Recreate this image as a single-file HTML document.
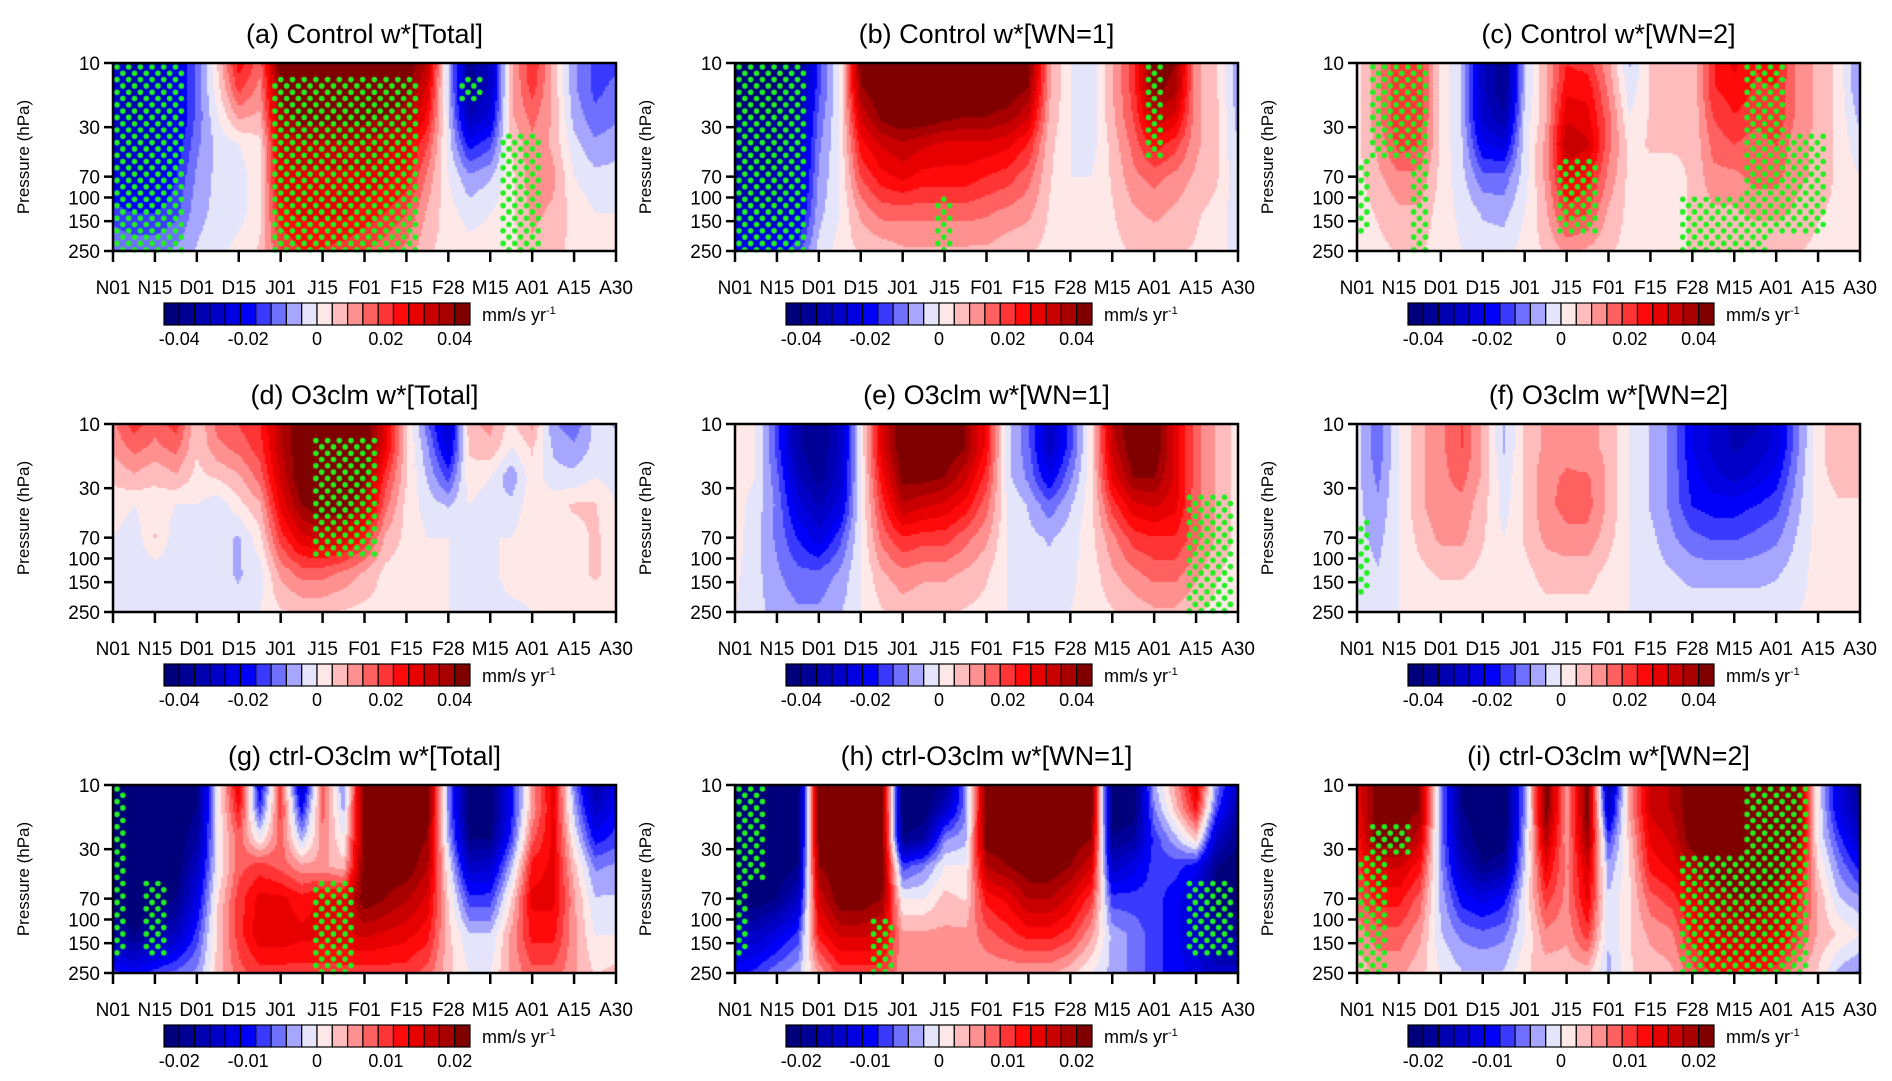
<!DOCTYPE html>
<html><head><meta charset="utf-8">
<style>
html,body{margin:0;padding:0;background:#fff;}
#wrap{position:relative;width:1892px;height:1081px;overflow:hidden;}
canvas,svg{position:absolute;left:0;top:0;}
text{font-family:"Liberation Sans",Arial,sans-serif;fill:#000;}
</style></head>
<body>
<div id="wrap">
<canvas id="cv" width="1892" height="1081"></canvas>
<svg id="sv" width="1892" height="1081"></svg>
</div>
<script>
// ---- data (values in 1e-3 mm/s yr^-1), rows = pressure levels, cols = half-tick time steps ----
const xTickLabels=["N01","N15","D01","D15","J01","J15","F01","F15","F28","M15","A01","A15","A30"];
const yTickValues=[10,30,70,100,150,250];
const levels=[10,15,25,40,70,130,250];
const cbLabelsTop=[-0.04,-0.02,0,0.02,0.04];
const cbLabelsBot=[-0.02,-0.01,0,0.01,0.02];
const titles=["(a) Control w*[Total]","(b) Control w*[WN=1]","(c) Control w*[WN=2]","(d) O3clm w*[Total]","(e) O3clm w*[WN=1]","(f) O3clm w*[WN=2]","(g) ctrl-O3clm w*[Total]","(h) ctrl-O3clm w*[WN=1]","(i) ctrl-O3clm w*[WN=2]"];
const scales=[40,40,40,40,40,40,20,20,20];

const aVals=[
[-30,-32,-30,-25,-12,5,25,15,45,45,45,45,45,45,45,35,-5,-38,-30,8,22,8,-8,-15,-15],
[-30,-32,-30,-25,-12,3,20,12,42,45,45,45,45,45,42,30,-5,-38,-30,8,20,8,-8,-15,-12],
[-30,-32,-30,-25,-12,0,10,8,38,42,42,42,42,40,38,25,-3,-32,-25,8,15,8,-6,-12,-10],
[-28,-30,-28,-22,-10,-3,0,3,32,35,35,35,35,32,30,18,-2,-20,-15,5,12,8,-3,-8,-6],
[-25,-28,-25,-18,-8,-3,-2,3,30,30,30,30,30,28,25,12,0,-8,-5,3,12,10,0,-3,-3],
[-15,-18,-18,-15,-6,-3,-2,3,25,28,28,28,25,22,18,8,2,-2,0,3,10,8,3,0,0],
[-10,-10,-10,-8,-4,-2,2,5,18,22,22,20,18,15,12,5,3,2,2,3,8,6,3,2,5]];
const bVals=[
[-42,-42,-42,-38,-15,0,42,45,45,45,45,45,45,45,42,10,0,-3,8,20,45,40,10,5,-8],
[-42,-42,-42,-38,-15,0,40,45,45,45,45,45,45,45,40,10,0,-3,8,20,42,38,10,5,-8],
[-40,-40,-40,-35,-12,0,32,42,45,45,42,40,40,38,32,8,0,-3,8,18,35,30,10,5,-6],
[-38,-38,-38,-32,-10,0,25,32,35,32,30,30,30,28,22,6,0,-2,6,15,25,20,10,5,-5],
[-35,-35,-35,-30,-8,0,18,25,28,25,25,25,22,20,15,5,0,0,5,12,15,12,8,5,-4],
[-30,-30,-30,-25,-6,0,10,15,15,15,15,15,14,12,10,4,2,2,4,8,10,8,5,3,-3],
[-20,-22,-20,-15,-3,2,5,6,8,8,8,8,8,6,5,3,2,2,3,5,6,5,4,2,-2]];
const cVals=[
[3,12,22,20,3,-5,-30,-40,-5,8,22,20,10,-5,5,5,5,22,28,22,25,12,8,3,-10],
[3,12,22,20,3,-5,-30,-40,-5,8,25,25,12,-3,5,5,5,22,25,22,22,12,8,3,-10],
[3,12,22,20,3,-5,-28,-35,-3,8,30,28,15,0,5,5,5,18,22,20,22,12,8,3,-6],
[3,10,20,18,3,-4,-22,-25,-2,10,35,32,15,3,5,5,5,15,18,15,18,10,8,3,-3],
[3,8,12,12,3,-3,-12,-12,-2,10,28,25,12,3,3,3,5,12,12,15,15,10,8,3,0],
[2,5,8,8,2,-1,-5,-6,0,8,20,18,8,3,3,3,5,8,8,10,10,8,5,3,2],
[2,3,5,5,2,0,-2,-2,2,5,10,8,5,3,3,3,5,5,5,5,5,5,3,3,2]];
const dVals=[
[12,20,15,20,5,15,18,22,35,45,45,45,45,30,5,-12,-30,8,10,3,10,-8,-12,-3,-5],
[10,15,12,15,5,12,15,20,35,45,45,45,45,28,5,-8,-25,5,8,0,5,-5,-8,-3,-3],
[5,8,5,8,3,5,8,15,32,45,45,45,42,20,5,-5,-15,3,0,-8,3,-3,-3,0,-2],
[3,0,3,0,0,-3,3,8,28,40,45,45,35,15,3,-2,-5,0,-3,-3,3,3,5,5,0],
[0,-3,5,-3,-3,-3,-5,3,20,30,32,30,22,8,3,0,0,0,0,0,3,3,3,5,3],
[-3,-3,-3,-3,-3,-3,-5,-2,10,15,15,12,8,3,2,0,0,-2,-2,3,3,3,3,5,3],
[-3,-3,-3,-3,-3,-3,-3,0,4,5,5,4,3,3,2,2,0,-2,-2,-2,0,2,3,2,2]];
const eVals=[
[3,0,-15,-35,-40,-30,0,30,45,45,45,40,25,-3,-12,-30,-15,3,35,45,45,30,15,8,3],
[3,0,-15,-35,-40,-30,0,30,45,45,45,40,25,-3,-12,-30,-15,3,33,45,45,30,15,8,3],
[2,0,-12,-30,-38,-28,0,25,42,42,40,32,20,-3,-10,-22,-10,3,28,40,40,30,15,8,3],
[2,-2,-10,-25,-32,-25,0,20,35,32,30,25,15,0,-5,-12,-5,3,20,30,32,28,15,8,3],
[2,-3,-10,-18,-25,-15,0,15,22,20,20,15,10,0,-3,-5,-2,3,12,20,22,22,15,8,3],
[1,-3,-8,-12,-12,-8,0,8,12,10,10,8,5,0,-2,-3,-1,2,8,12,15,15,10,5,2],
[0,-3,-6,-8,-8,-5,0,4,6,5,5,4,3,0,-1,-2,0,2,4,6,8,8,5,3,2]];
const fVals=[
[-3,-12,0,8,12,18,8,-5,5,10,12,10,8,0,-5,-10,-22,-28,-32,-32,-25,-10,3,8,8],
[-3,-12,0,8,12,18,8,-5,5,10,12,10,8,0,-5,-10,-22,-28,-32,-30,-25,-10,3,8,8],
[-3,-10,0,8,12,15,8,-3,5,12,14,14,8,0,-5,-10,-20,-25,-28,-25,-20,-8,3,6,6],
[-3,-8,0,8,12,12,6,-2,5,12,15,15,8,0,-5,-10,-18,-20,-20,-18,-15,-6,2,4,4],
[-3,-6,0,6,10,10,5,0,5,10,12,12,6,0,-3,-8,-12,-14,-14,-12,-10,-4,2,3,3],
[-2,-4,0,3,5,5,3,0,3,6,6,6,3,0,-2,-4,-6,-6,-6,-6,-5,-2,2,2,2],
[-2,-2,0,2,2,2,2,0,2,3,3,3,2,0,0,-1,-2,-2,-2,-2,-2,0,1,2,2]];
const gVals=[
[-22,-22,-22,-22,-20,0,15,-12,10,-15,8,-5,22,22,22,22,-5,-22,-22,-10,5,15,-5,-18,-12],
[-22,-22,-22,-22,-20,0,12,-8,10,-10,8,-3,22,22,22,22,-5,-22,-22,-10,5,14,-3,-15,-10],
[-22,-22,-22,-22,-18,0,8,0,8,-3,6,0,22,22,22,20,-3,-20,-20,-8,8,14,0,-10,-8],
[-22,-22,-22,-22,-15,0,8,10,8,5,5,3,22,22,22,18,0,-15,-14,-3,12,14,3,-5,-4],
[-22,-22,-22,-20,-12,2,10,14,14,12,14,14,22,20,18,15,2,-8,-8,2,14,14,5,-2,-2],
[-18,-20,-18,-15,-8,3,10,15,15,14,14,15,16,15,14,12,3,-2,-2,5,12,12,5,0,0],
[-8,-10,-8,-6,-4,3,8,10,10,10,10,10,10,10,10,8,3,0,0,5,8,8,5,2,3]];
const hVals=[
[-22,-22,-22,-22,22,22,22,22,-22,-22,-20,-5,22,22,22,22,22,22,-22,-22,-3,5,15,-5,-15],
[-22,-22,-22,-22,22,22,22,22,-22,-22,-15,-5,22,22,22,22,22,22,-22,-22,-5,3,12,-8,-18],
[-22,-22,-22,-22,22,22,22,22,-20,-18,-5,-3,22,22,22,22,22,20,-20,-18,-8,-3,3,-15,-20],
[-22,-22,-22,-20,20,22,22,22,-8,-5,0,0,18,20,22,22,20,16,-15,-12,-8,-8,-10,-20,-22],
[-22,-22,-20,-15,16,22,22,20,0,0,3,2,12,14,18,18,15,10,-8,-8,-8,-10,-15,-22,-22],
[-15,-15,-12,-8,12,16,16,15,5,5,5,5,8,10,12,12,10,5,-3,-5,-8,-10,-15,-18,-18],
[-10,-8,-5,-3,5,10,10,10,5,5,5,5,5,5,5,5,3,0,-3,-5,-8,-10,-12,-15,-15]];
const iVals=[
[14,22,22,20,-5,-20,-22,-22,-5,22,5,22,-18,5,16,18,22,22,22,22,22,22,0,-12,-20],
[14,22,22,20,-5,-20,-22,-22,-5,22,5,22,-15,5,16,18,22,22,22,22,22,22,0,-12,-18],
[12,22,22,16,-5,-18,-22,-22,-3,18,5,20,-8,3,14,16,22,22,22,22,22,20,0,-8,-15],
[10,16,16,12,-4,-15,-20,-18,-2,14,6,16,-4,2,12,14,18,22,22,22,22,16,2,-5,-10],
[8,12,12,8,-3,-10,-12,-10,0,10,6,14,-2,2,8,10,14,18,20,20,18,12,4,-2,-4],
[5,8,8,5,-2,-5,-6,-5,0,6,5,10,-2,2,5,6,12,15,16,16,15,10,4,2,0],
[3,5,5,3,0,-2,-2,-2,2,3,3,3,-3,2,3,4,8,12,12,12,10,5,2,-3,-5]];
// significance regions: [col0,col1,level0,level1] in grid indices
const aStip=[[0,3,0,6],[8,14,1,6],[19,20,3,6],[17,17,1,1]];
const bStip=[[0,3,0,6],[10,10,5,6],[20,20,0,3]];
const cStip=[[1,3,0,3],[3,3,3,6],[0,0,4,5],[10,11,4,5],[16,19,5,6],[19,20,0,4],[19,22,3,5]];
const dStip=[[10,12,1,4]];
const eStip=[[22,24,3,6]];
const fStip=[[0,0,4,5]];
const gStip=[[0,0,0,5],[2,2,4,5],[10,11,4,6]];
const hStip=[[0,0,0,5],[1,1,0,3],[7,7,5,6],[22,24,4,5]];
const iStip=[[0,1,3,6],[1,2,2,2],[16,21,3,6],[19,21,0,2]];

const allVals=[aVals,bVals,cVals,dVals,eVals,fVals,gVals,hVals,iVals];
const allStip=[aStip,bStip,cStip,dStip,eStip,fStip,gStip,hStip,iStip];
const colors=['#00007a','#000096','#0000b0','#0000c8','#0000e0','#0000fa','#3a3aff','#7070ff','#a6a6ff','#e4e4fa','#ffe8e8','#ffbcbc','#ff9090','#ff6060','#ff3535','#ff0a0a','#e60000','#c80000','#a80000','#800000'];

// ---- layout ----
const colLeft=[113,735,1357], rowTop=[63,424,785], PW=503, PH=188;
const NS="http://www.w3.org/2000/svg";
const sv=document.getElementById('sv');
const ctx=document.getElementById('cv').getContext('2d');
function xScale(L,t){return L+PW*t/24;}
function yScale(T,p){return T+PH*Math.log(p/10)/Math.log(25);}
function levelIndex(p){
  for(let k=0;k<levels.length-1;k++){
    if(p<=levels[k+1]) return k+Math.log(p/levels[k])/Math.log(levels[k+1]/levels[k]);
  }
  return levels.length-1;
}
function sample(g,t,r){
  const i0=Math.max(0,Math.min(23,Math.floor(t))), r0=Math.max(0,Math.min(5,Math.floor(r)));
  const ft=t-i0, fr=r-r0;
  const v00=g[r0][i0],v01=g[r0][i0+1],v10=g[r0+1][i0],v11=g[r0+1][i0+1];
  return (v00*(1-ft)+v01*ft)*(1-fr)+(v10*(1-ft)+v11*ft)*fr;
}
function colorFor(v,s){
  const step=s/9;let k=Math.floor(v/step)+10;
  return colors[Math.max(0,Math.min(19,k))];
}
function mk(tag,attrs,parent){const e=document.createElementNS(NS,tag);for(const k in attrs)e.setAttribute(k,attrs[k]);(parent||sv).appendChild(e);return e;}

for(let n=0;n<9;n++){
  const L=colLeft[n%3], T=rowTop[Math.floor(n/3)], g=allVals[n], s=scales[n];
  const cs=2;
  for(let py=0;py<PH;py+=cs){
    const p=10*Math.pow(25,(py+cs/2)/PH), r=levelIndex(p);
    for(let px=0;px<PW;px+=cs){
      const t=24*(px+cs/2)/PW;
      ctx.fillStyle=colorFor(sample(g,t,r),s);
      ctx.fillRect(L+px,T+py,cs,cs);
    }
  }
  ctx.fillStyle='#22ee22';
  const dx=11.7, dy=6.3;
  let row=0;
  for(let y=T+4;y<T+PH;y+=dy,row++){
    const p=10*Math.pow(25,(y-T)/PH), r=levelIndex(p);
    for(let x=L+4+(row%2?dx/2:0);x<L+PW-2;x+=dx){
      const t=24*(x-L)/PW;
      let on=false;
      for(const st of allStip[n]){ if(t>=st[0]-0.5&&t<=st[1]+0.5&&r>=st[2]-0.5&&r<=st[3]+0.5){on=true;break;} }
      if(on){ctx.beginPath();ctx.arc(x,y,2.8,0,Math.PI*2);ctx.fill();}
    }
  }
  const grp=mk('g',{});
  
  
  const frame=mk('rect',{x:L,y:T,width:PW,height:PH,fill:'none',stroke:'#000','stroke-width':2.5},grp);
  
  
  const title=mk('text',{x:L+PW/2,y:T-20,'text-anchor':'middle','font-size':27},grp);
  title.textContent=titles[n];
  
  
  const yt=mk('text',{x:0,y:0,'text-anchor':'middle','font-size':17,transform:`translate(${L-84},${T+PH/2}) rotate(-90)`},grp);
  yt.textContent='Pressure (hPa)';
  
  
  for(const v of yTickValues){
    const y=yScale(T,v);
    const tk=mk('line',{x1:L-9,x2:L,y1:y,y2:y,stroke:'#000','stroke-width':2.5},grp);
    
    
    const lb=mk('text',{x:L-13,y:y+7,'text-anchor':'end','font-size':19},grp);
    lb.textContent=v;
    
    
  }
  xTickLabels.forEach((lab,k)=>{
    const x=xScale(L,k*2);
    const tk=mk('line',{x1:x,x2:x,y1:T+PH,y2:T+PH+11,stroke:'#000','stroke-width':2.5},grp);
    
    
    const lb=mk('text',{x:x,y:T+PH+43,'text-anchor':'middle','font-size':19},grp);
    lb.textContent=lab;
    
    
  });
  const cbx=L+51, cby=T+PH+52, cbw=306, cbh=22, bw=cbw/20;
  const cb=mk('g',{},grp);
  
  
  colors.forEach((c,k)=>{
    const b=mk('rect',{x:cbx+k*bw,y:cby,width:bw,height:cbh,fill:c,stroke:'#000','stroke-width':1.2},cb);
    
    
  });
  const labs=s===40?cbLabelsTop:cbLabelsBot, lim=s/1000;
  labs.forEach(v=>{
    const x=cbx+cbw*(0.5+0.45*v/lim);
    const lb=mk('text',{x:x,y:cby+cbh+20,'text-anchor':'middle','font-size':18},cb);
    lb.textContent=String(v);
    
    
  });
  const ut=mk('text',{x:cbx+cbw+12,y:cby+18,'font-size':18},cb);
  ut.textContent='mm/s yr';
  const sup=mk('tspan',{dy:-7,'font-size':11},ut);
  sup.textContent='-1';
  
  
}
</script>
</body></html>
